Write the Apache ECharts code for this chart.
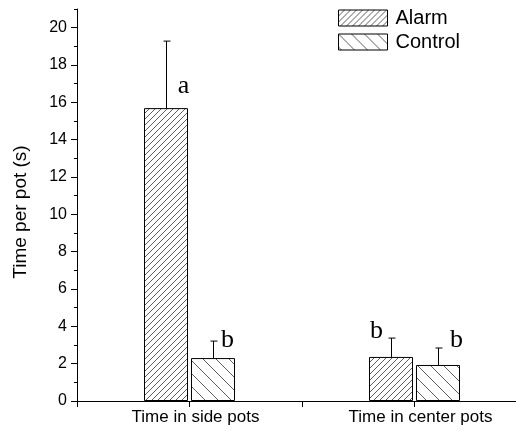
<!DOCTYPE html>
<html>
<head>
<meta charset="utf-8">
<script src="https://cdn.jsdelivr.net/npm/echarts@6/dist/echarts.min.js"></script>
<style>
  html, body { margin: 0; padding: 0; background: #fff; }
  #chart { width: 516px; height: 431px; }
</style>
</head>
<body>
<div id="chart"></div>
<script>
// values
const categories = ['Time in side pots', 'Time in center pots'];
const xPos = [1, 2];
const alarmMean = [15.69, 2.36];
const alarmErr = [19.28, 3.37];
const controlMean = [2.3, 1.93];
const controlErr = [3.21, 2.84];
const alarmLetters = ['a', 'b'];
const controlLetters = ['b', 'b'];
const yTicks = [0, 2, 4, 6, 8, 10, 12, 14, 16, 18, 20];
const yMinorTicks = [1, 3, 5, 7, 9, 11, 13, 15, 17, 19, 21];

const barW = 44;
const barGapPx = 3;
const shift = (barW + barGapPx) / 2;

// letter offsets from error bar tip [dx, dy], per group
const alarmLetterOff = [[17, 45], [-15, -7]];
const controlLetterOff = [[14, -1], [18, -8]];

function hatch(size, dir) {
    const c = document.createElement('canvas');
    c.width = size; c.height = size;
    const ctx = c.getContext('2d');
    ctx.strokeStyle = '#333';
    ctx.lineWidth = 0.8;
    ctx.beginPath();
    if (dir === '/') {
        ctx.moveTo(0, size); ctx.lineTo(size, 0);
        ctx.moveTo(-1, 1); ctx.lineTo(1, -1);
        ctx.moveTo(size - 1, size + 1); ctx.lineTo(size + 1, size - 1);
    } else {
        ctx.moveTo(0, 0); ctx.lineTo(size, size);
        ctx.moveTo(size - 1, -1); ctx.lineTo(size + 1, 1);
        ctx.moveTo(-1, size - 1); ctx.lineTo(1, size + 1);
    }
    ctx.stroke();
    return c;
}

const alarmFill = { image: hatch(6, '/'), repeat: 'repeat' };
const controlFill = { image: hatch(13, '\\'), repeat: 'repeat' };

function errSeries(means, errs, letters, offs, sign) {
    return {
        type: 'custom',
        xAxisIndex: 0,
        yAxisIndex: 0,
        z: 3,
        data: xPos.map((x, i) => [x, means[i], errs[i]]),
        encode: { x: 0, y: [1, 2] },
        renderItem: function (params, api) {
            const i = params.dataIndex;
            const p0 = api.coord([api.value(0), api.value(1)]);
            const p1 = api.coord([api.value(0), api.value(2)]);
            const px = Math.round(p0[0] + sign * shift) + 0.5;
            return {
                type: 'group',
                children: [
                    { type: 'line', shape: { x1: px, y1: p0[1], x2: px, y2: p1[1] },
                      style: { stroke: '#000', lineWidth: 1 } },
                    { type: 'line', shape: { x1: px - 3, y1: p1[1], x2: px + 4, y2: p1[1] },
                      style: { stroke: '#000', lineWidth: 1 } },
                    { type: 'text',
                      style: { text: letters[i], x: px + offs[i][0], y: p1[1] + offs[i][1],
                               textAlign: 'center', textVerticalAlign: 'middle',
                               font: '26px "Liberation Serif", serif', fill: '#000' } }
                ]
            };
        }
    };
}

const chart = echarts.init(document.getElementById('chart'), null, { renderer: 'canvas' });

const option = {
    backgroundColor: '#fff',
    animation: false,
    textStyle: { fontFamily: '"Liberation Sans", Arial, sans-serif', color: '#000' },
    grid: { left: 77, width: 450, top: 9, bottom: 30, outerBoundsMode: 'none', containLabel: false },
    legend: {
        data: ['Alarm', 'Control'],
        orient: 'vertical',
        left: 338,
        top: 8,
        padding: 0,
        itemWidth: 49,
        itemHeight: 16,
        itemGap: 4,
        icon: 'rect',
        itemStyle: { borderColor: '#000', borderWidth: 1 },
        textStyle: { fontSize: 20, color: '#000', padding: [0, 0, 0, 3],
                     fontFamily: '"Liberation Sans", Arial, sans-serif' }
    },
    xAxis: {
        type: 'value',
        min: 0.5,
        max: 2.5,
        interval: 0.5,
        splitLine: { show: false },
        axisLine: { lineStyle: { color: '#000', width: 1 } },
        axisTick: { show: true, inside: false, length: 6, lineStyle: { color: '#000' } },
        axisLabel: {
            margin: 8,
            fontSize: 17,
            color: '#000',
            padding: [0, 0, 0, 12],
            formatter: function (v) {
                const i = xPos.indexOf(v);
                return i >= 0 ? categories[i] : '';
            }
        }
    },
    yAxis: [{
        type: 'value',
        min: 0,
        max: 21,
        interval: 2,
        name: 'Time per pot (s)',
        nameLocation: 'middle',
        nameGap: 47,
        nameTextStyle: { fontSize: 19, color: '#000', padding: [0, 14, 0, 0] },
        splitLine: { show: false },
        axisLine: { show: true, lineStyle: { color: '#000', width: 1 } },
        axisTick: { show: true, inside: false, length: 6, customValues: yTicks,
                    lineStyle: { color: '#000' } },
        axisLabel: { fontSize: 16, color: '#000', margin: 10, customValues: yTicks }
    }, {
        type: 'value',
        min: 0,
        max: 21,
        interval: 1,
        position: 'left',
        splitLine: { show: false },
        axisLine: { show: false },
        axisTick: { show: true, inside: false, length: 3, customValues: yMinorTicks,
                    lineStyle: { color: '#000' } },
        axisLabel: { show: false }
    }],
    series: [{
        name: 'Alarm',
        type: 'bar',
        barWidth: barW,
        barGap: (barGapPx / barW * 100).toFixed(1) + '%',
        data: xPos.map((x, i) => [x, alarmMean[i]]),
        itemStyle: { color: alarmFill, borderColor: '#000', borderWidth: 1 }
    }, {
        name: 'Control',
        type: 'bar',
        barWidth: barW,
        data: xPos.map((x, i) => [x, controlMean[i]]),
        itemStyle: { color: controlFill, borderColor: '#000', borderWidth: 1 }
    },
    errSeries(alarmMean, alarmErr, alarmLetters, alarmLetterOff, -1),
    errSeries(controlMean, controlErr, controlLetters, controlLetterOff, 1)
    ]
};

chart.setOption(option);
</script>
</body>
</html>
